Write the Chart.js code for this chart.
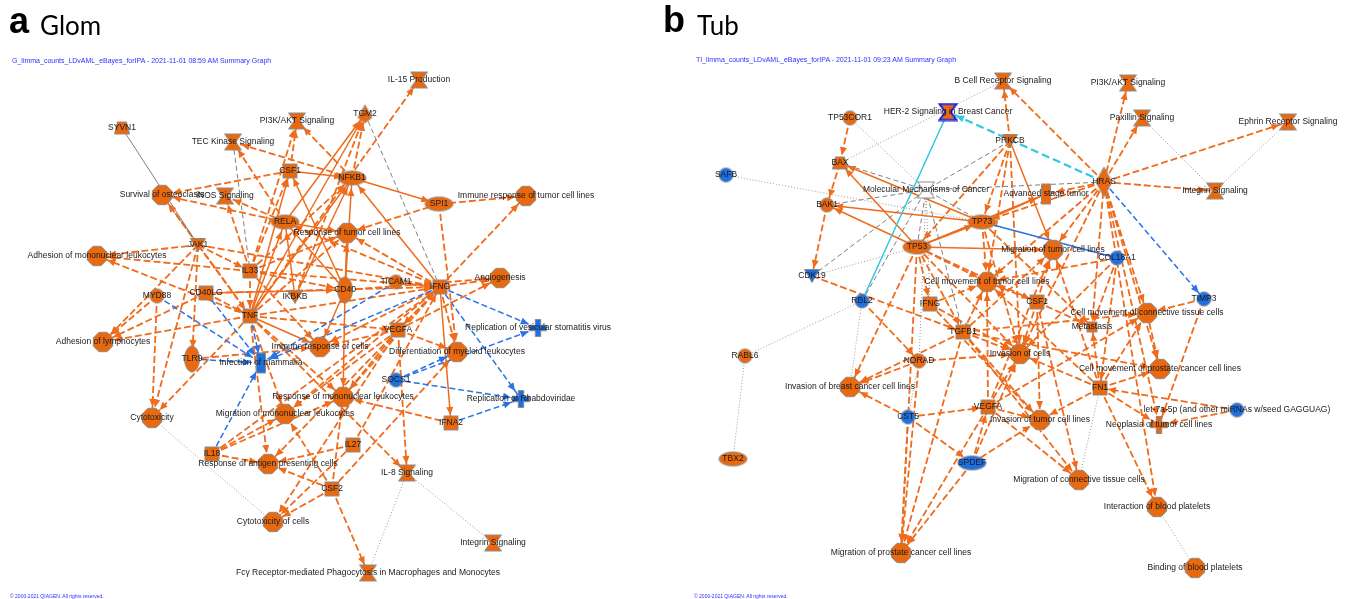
<!DOCTYPE html>
<html>
<head>
<meta charset="utf-8">
<script src="https://cdn.jsdelivr.net/npm/chart.js@4.4.1/dist/chart.umd.min.js"></script>
<style>
  body { margin: 0; background: #fff; width: 1351px; height: 599px; overflow: hidden; position: relative; font-family: "Liberation Sans", Arial, sans-serif; }
  canvas { position: absolute; top: 0; }
  #glom { left: 0; }
  #tub { left: 675px; }
  .tag { position: absolute; font-weight: bold; font-size: 36px; line-height: 36px; color: #000; }
  .name { position: absolute; font-family: Lato, "Open Sans", sans-serif; font-size: 26px; line-height: 26px; color: #000; }
  .sub { position: absolute; font-size: 7px; line-height: 8px; color: #2f2fff; white-space: nowrap; }
  .copy { position: absolute; font-size: 5px; line-height: 6px; color: #2f2fff; white-space: nowrap; }
</style>
</head>
<body>
<canvas id="glom" width="675" height="599"></canvas>
<canvas id="tub" width="676" height="599"></canvas>
<div class="tag" style="left:9px;top:3px">a</div>
<div class="name" style="left:40px;top:12px">Glom</div>
<div class="sub" style="left:12px;top:57px">G_limma_counts_LDvAML_eBayes_forIPA - 2021-11-01 08:59 AM Summary Graph</div>
<div class="copy" style="left:10px;top:593px">© 2000-2021 QIAGEN. All rights reserved.</div>
<div class="tag" style="left:663px;top:2px">b</div>
<div class="name" style="left:697px;top:12px">Tub</div>
<div class="sub" style="left:696px;top:56px">TI_limma_counts_LDvAML_eBayes_forIPA - 2021-11-01 09:23 AM Summary Graph</div>
<div class="copy" style="left:694px;top:593px">© 2000-2021 QIAGEN. All rights reserved.</div>
<script>
// ---- Panel a (Glom): nodes ----
const glomNodes = ['SYVN1', 'TEC Kinase Signaling', 'PI3K/AKT Signaling', 'TGM2', 'IL-15 Production',
  'CSF1', 'NFKB1', 'SPI1', 'Immune response of tumor cell lines', 'Survival of osteoclasts',
  'iNOS Signaling', 'RELA', 'Response of tumor cell lines', 'JAK1', 'Adhesion of mononuclear leukocytes',
  'IL33', 'MYD88', 'CD40LG', 'IKBKB', 'CD40', 'TICAM1', 'IFNG', 'Angiogenesis', 'TNF',
  'Adhesion of lymphocytes', 'TLR9', 'Infection of mammalia', 'Immune response of cells', 'VEGFA',
  'Replication of vesicular stomatitis virus', 'Differentiation of myeloid leukocytes', 'SOCS1',
  'Response of mononuclear leukocytes', 'Replication of Rhabdoviridae', 'Migration of mononuclear leukocytes',
  'Cytotoxicity', 'IFNA2', 'IL18', 'Response of antigen presenting cells', 'IL27', 'IL-8 Signaling',
  'CSF2', 'Cytotoxicity of cells', 'Integrin Signaling',
  'Fcγ Receptor-mediated Phagocytosis in Macrophages and Monocytes'];
const glomX = [122, 233, 297, 365, 419, 290, 352, 439, 526, 162, 225, 285, 347, 198, 97, 250, 157, 206, 295,
  345, 396, 440, 500, 250, 103, 192, 261, 320, 398, 538, 457, 396, 343, 521, 285, 152, 451, 212, 268, 353,
  407, 332, 273, 493, 368];
const glomY = [128, 142, 121, 114, 80, 171, 178, 204, 196, 195, 196, 222, 233, 245, 256, 271, 296, 293, 297,
  290, 282, 287, 278, 316, 342, 359, 363, 347, 330, 328, 352, 380, 397, 399, 414, 418, 423, 454, 464, 445,
  473, 489, 522, 543, 573];
const glomKind = ['trap', 'path', 'path', 'enzU', 'path', 'cyt', 'tr', 'tr', 'func', 'func', 'path', 'tr',
  'func', 'kin', 'func', 'cyt', 'oth', 'cyt', 'kin', 'rec', 'oth', 'cyt', 'func', 'cyt', 'func', 'rec', 'tall',
  'func', 'cyt', 'dis', 'func', 'oth', 'func', 'dis', 'func', 'func', 'cyt', 'cyt', 'func', 'cyt', 'path',
  'cyt', 'func', 'path', 'path'];
const glomDown = ['Infection of mammalia', 'Replication of vesicular stomatitis virus', 'SOCS1',
  'Replication of Rhabdoviridae'];

// ---- Panel a: relationships [from, to, style] ----
const FCG = 'Fcγ Receptor-mediated Phagocytosis in Macrophages and Monocytes';
const glomEdges = [
  ['SYVN1', 'JAK1', 'gs'], ['TEC Kinase Signaling', 'IL33', 'gd'], ['TGM2', 'IFNG', 'gd'],
  ['Cytotoxicity', 'Cytotoxicity of cells', 'gp'], ['IL-8 Signaling', FCG, 'gp'], ['IL-8 Signaling', 'Integrin Signaling', 'gp'],
  ['TNF', 'IL-15 Production', 'od'], ['RELA', 'TEC Kinase Signaling', 'od'], ['NFKB1', 'TEC Kinase Signaling', 'od'],
  ['CSF1', 'PI3K/AKT Signaling', 'od'], ['IL33', 'PI3K/AKT Signaling', 'od'], ['NFKB1', 'PI3K/AKT Signaling', 'od'],
  ['RELA', 'TGM2', 'os'], ['NFKB1', 'TGM2', 'od'], ['TNF', 'TGM2', 'os'], ['IKBKB', 'TGM2', 'od'],
  ['TNF', 'CSF1', 'os'], ['IL33', 'CSF1', 'od'], ['CD40', 'CSF1', 'os'], ['CSF1', 'Survival of osteoclasts', 'od'],
  ['CSF1', 'NFKB1', 'os'], ['TNF', 'NFKB1', 'os'], ['IKBKB', 'NFKB1', 'os'], ['CD40', 'NFKB1', 'os'],
  ['IFNG', 'NFKB1', 'os'], ['IL33', 'NFKB1', 'od'], ['NFKB1', 'SPI1', 'os'],
  ['SPI1', 'Response of tumor cell lines', 'od'], ['SPI1', 'Immune response of tumor cell lines', 'od'],
  ['SPI1', 'Differentiation of myeloid leukocytes', 'od'], ['IFNG', 'Immune response of tumor cell lines', 'od'],
  ['IFNG', 'Angiogenesis', 'od'], ['VEGFA', 'Angiogenesis', 'od'], ['CD40', 'Angiogenesis', 'od'],
  ['IFNG', 'Replication of vesicular stomatitis virus', 'bd'], ['IFNG', 'Replication of Rhabdoviridae', 'bd'],
  ['SOCS1', 'Differentiation of myeloid leukocytes', 'bd'], ['SOCS1', 'Replication of vesicular stomatitis virus', 'bd'],
  ['SOCS1', 'Replication of Rhabdoviridae', 'bd'], ['IFNA2', 'Replication of Rhabdoviridae', 'bd'],
  ['IFNG', 'Infection of mammalia', 'bd'], ['TICAM1', 'Infection of mammalia', 'bd'], ['MYD88', 'Infection of mammalia', 'bd'],
  ['CD40LG', 'Infection of mammalia', 'bd'], ['TNF', 'Infection of mammalia', 'bd'], ['TLR9', 'Infection of mammalia', 'bd'],
  ['IL18', 'Infection of mammalia', 'bd'],
  ['JAK1', 'Adhesion of mononuclear leukocytes', 'od'], ['TNF', 'Adhesion of mononuclear leukocytes', 'od'],
  ['IL33', 'Adhesion of mononuclear leukocytes', 'od'], ['MYD88', 'Adhesion of lymphocytes', 'od'],
  ['JAK1', 'Adhesion of lymphocytes', 'od'], ['TNF', 'Adhesion of lymphocytes', 'od'], ['CD40LG', 'Adhesion of lymphocytes', 'od'],
  ['MYD88', 'Cytotoxicity', 'od'], ['JAK1', 'Cytotoxicity', 'od'], ['JAK1', 'TLR9', 'od'],
  ['RELA', 'Response of tumor cell lines', 'os'], ['TNF', 'Response of tumor cell lines', 'od'],
  ['CD40', 'Response of tumor cell lines', 'os'], ['IFNG', 'Response of tumor cell lines', 'od'],
  ['IL33', 'Response of tumor cell lines', 'od'], ['JAK1', 'Survival of osteoclasts', 'od'],
  ['TNF', 'Survival of osteoclasts', 'od'], ['RELA', 'Survival of osteoclasts', 'od'],
  ['IL33', 'iNOS Signaling', 'od'], ['RELA', 'iNOS Signaling', 'od'],
  ['IFNG', 'RELA', 'od'], ['TNF', 'RELA', 'os'], ['IKBKB', 'RELA', 'os'], ['CD40', 'RELA', 'os'],
  ['CD40LG', 'CD40', 'os'], ['IL33', 'CD40', 'od'], ['TICAM1', 'IFNG', 'od'], ['IL33', 'IFNG', 'od'],
  ['CD40LG', 'IFNG', 'od'], ['TNF', 'IFNG', 'od'], ['IL18', 'IFNG', 'od'], ['IL27', 'IFNG', 'od'],
  ['IFNG', 'IFNA2', 'os'], ['JAK1', 'IL33', 'od'], ['JAK1', 'TNF', 'od'], ['JAK1', 'IFNG', 'od'],
  ['TNF', 'Immune response of cells', 'os'], ['CD40', 'Immune response of cells', 'os'],
  ['IFNG', 'Immune response of cells', 'od'], ['IL33', 'Immune response of cells', 'od'],
  ['TLR9', 'Immune response of cells', 'od'], ['VEGFA', 'Immune response of cells', 'od'],
  ['IL18', 'Response of mononuclear leukocytes', 'od'], ['TNF', 'Response of mononuclear leukocytes', 'od'],
  ['IFNG', 'Response of mononuclear leukocytes', 'od'], ['CD40', 'Response of mononuclear leukocytes', 'os'],
  ['IFNA2', 'Response of mononuclear leukocytes', 'od'], ['CSF2', 'Response of mononuclear leukocytes', 'od'],
  ['VEGFA', 'Response of mononuclear leukocytes', 'od'],
  ['TNF', 'Migration of mononuclear leukocytes', 'od'], ['IL18', 'Migration of mononuclear leukocytes', 'od'],
  ['CSF2', 'Migration of mononuclear leukocytes', 'od'], ['IFNG', 'Migration of mononuclear leukocytes', 'od'],
  ['VEGFA', 'Migration of mononuclear leukocytes', 'od'],
  ['IL18', 'Response of antigen presenting cells', 'od'], ['CSF2', 'Response of antigen presenting cells', 'od'],
  ['TNF', 'Response of antigen presenting cells', 'od'], ['IL27', 'Response of antigen presenting cells', 'od'],
  ['IFNG', 'Response of antigen presenting cells', 'od'],
  ['CSF2', 'Cytotoxicity of cells', 'od'], ['IL27', 'Cytotoxicity of cells', 'od'], ['VEGFA', 'Cytotoxicity of cells', 'od'],
  ['CSF2', FCG, 'od'], ['VEGFA', 'IL-8 Signaling', 'od'], ['TNF', 'IL-8 Signaling', 'od'],
  ['IFNG', 'Differentiation of myeloid leukocytes', 'od'], ['CSF2', 'Differentiation of myeloid leukocytes', 'od'],
  ['VEGFA', 'Differentiation of myeloid leukocytes', 'od'], ['IFNG', 'VEGFA', 'od'], ['TNF', 'VEGFA', 'od'],
  ['TNF', 'Cytotoxicity', 'od'], ['CD40LG', 'TNF', 'od'], ['IL33', 'TNF', 'od']
];

// ---- Panel b (Tub): nodes ----
const LET7 = 'let-7a-5p (and other miRNAs w/seed GAGGUAG)';
const tubNodes = ['B Cell Receptor Signaling', 'PI3K/AKT Signaling', 'HER-2 Signaling in Breast Cancer', 'TP53COR1',
  'Paxillin Signaling', 'Ephrin Receptor Signaling', 'PRKCB', 'BAX', 'SAFB', 'Molecular Mechanisms of Cancer',
  'HRAS', 'Advanced stage tumor', 'Integrin Signaling', 'BAK1', 'TP73', 'TP53', 'Migration of tumor cell lines',
  'CDK19', 'COL18A1', 'Cell movement of tumor cell lines', 'RBL2', 'IFNG', 'CSF1', 'TIMP3',
  'Cell movement of connective tissue cells', 'Metastasis', 'TGFB1', 'RABL6', 'NORAD', 'Invasion of cells',
  'Invasion of breast cancer cell lines', 'Cell movement of prostate cancer cell lines', 'FN1', 'VEGFA', 'CST5',
  LET7, 'Invasion of tumor cell lines', 'Neoplasia of tumor cell lines', 'TBX2', 'SPDEF',
  'Migration of connective tissue cells', 'Interaction of blood platelets', 'Migration of prostate cancer cell lines',
  'Binding of blood platelets'];
const tubX = [1003, 1128, 948, 850, 1142, 1288, 1010, 840, 726, 926, 1104, 1046, 1215, 827, 982, 917, 1053, 812,
  1117, 987, 862, 930, 1037, 1204, 1147, 1092, 963, 745, 919, 1020, 850, 1160, 1100, 988, 908, 1237, 1040, 1159,
  733, 972, 1079, 1157, 901, 1195];
const tubY = [81, 83, 112, 118, 118, 122, 141, 163, 175, 190, 182, 194, 191, 205, 222, 247, 250, 276, 258, 282,
  301, 304, 302, 299, 313, 327, 332, 356, 361, 354, 387, 369, 388, 407, 417, 410, 420, 425, 459, 463, 480, 507,
  553, 568];
const tubKind = ['path', 'path', 'path', 'oth', 'path', 'path', 'kin', 'trap', 'oth', 'path', 'enz', 'tall', 'path',
  'oth', 'tr', 'tr', 'func', 'kin', 'oth', 'func', 'oth', 'cyt', 'cyt', 'oth', 'func', 'sq', 'cyt', 'oth', 'oth',
  'func', 'func', 'func', 'cyt', 'cyt', 'oth', 'oth', 'func', 'dis', 'tr', 'tr', 'func', 'func', 'func', 'func'];
const tubDown = ['SAFB', 'CDK19', 'COL18A1', 'RBL2', 'TIMP3', 'CST5', LET7, 'SPDEF'];

// ---- Panel b: relationships ----
const HER2 = 'HER-2 Signaling in Breast Cancer', MMC = 'Molecular Mechanisms of Cancer';
const tubEdges = [
  ['HRAS', HER2, 'cd'], ['RBL2', HER2, 'cs'], ['BAX', 'B Cell Receptor Signaling', 'gp'],
  ['TP53COR1', MMC, 'gp'], ['SAFB', 'TP73', 'gp'], ['BAX', MMC, 'gd'], ['PRKCB', MMC, 'gd'], ['HRAS', MMC, 'gd'],
  ['BAK1', MMC, 'gd'], ['CDK19', MMC, 'gd'], ['RBL2', MMC, 'gd'], ['TGFB1', MMC, 'gd'], ['TP53', MMC, 'gd'],
  ['TP73', MMC, 'gd'], ['IFNG', MMC, 'gp'], ['NORAD', MMC, 'gp'], ['CDK19', 'TP53', 'gp'],
  ['RBL2', 'Invasion of breast cancer cell lines', 'gp'], ['RBL2', 'RABL6', 'gp'], ['RABL6', 'TBX2', 'gp'],
  ['Paxillin Signaling', 'Integrin Signaling', 'gp'], ['Ephrin Receptor Signaling', 'Integrin Signaling', 'gp'],
  ['Interaction of blood platelets', 'Binding of blood platelets', 'gp'], ['NORAD', 'CST5', 'gp'],
  ['FN1', 'Migration of connective tissue cells', 'gp'],
  ['TP73', 'COL18A1', 'bs'], ['HRAS', 'TIMP3', 'bd'],
  ['TP53COR1', 'BAX', 'od'], ['TP53', 'BAX', 'os'], ['TP73', 'BAX', 'os'], ['TP53', 'BAK1', 'os'], ['TP73', 'BAK1', 'os'],
  ['BAK1', 'CDK19', 'od'], ['BAX', 'BAK1', 'od'], ['CDK19', 'TGFB1', 'od'], ['RBL2', 'NORAD', 'od'],
  ['HRAS', 'B Cell Receptor Signaling', 'od'], ['HRAS', 'PI3K/AKT Signaling', 'od'], ['HRAS', 'Paxillin Signaling', 'od'],
  ['HRAS', 'Ephrin Receptor Signaling', 'od'], ['HRAS', 'Integrin Signaling', 'od'], ['HRAS', 'Advanced stage tumor', 'od'],
  ['HRAS', 'Migration of tumor cell lines', 'od'], ['HRAS', 'Cell movement of tumor cell lines', 'od'],
  ['HRAS', 'Cell movement of connective tissue cells', 'od'], ['HRAS', 'Invasion of cells', 'od'],
  ['HRAS', 'Cell movement of prostate cancer cell lines', 'od'], ['HRAS', 'Neoplasia of tumor cell lines', 'od'],
  ['HRAS', 'Interaction of blood platelets', 'od'], ['HRAS', 'Metastasis', 'od'], ['HRAS', 'TP73', 'od'],
  ['PRKCB', 'B Cell Receptor Signaling', 'od'], ['PRKCB', 'Migration of tumor cell lines', 'os'], ['PRKCB', 'TP73', 'od'],
  ['PRKCB', 'TP53', 'od'], ['PRKCB', 'Cell movement of tumor cell lines', 'od'], ['PRKCB', 'Invasion of cells', 'od'],
  ['TP53', 'TP73', 'os'], ['TP53', 'Advanced stage tumor', 'os'], ['TP73', 'Advanced stage tumor', 'os'],
  ['TP53', 'Migration of tumor cell lines', 'os'], ['TP53', 'Cell movement of tumor cell lines', 'od'],
  ['TP73', 'Cell movement of tumor cell lines', 'od'], ['TP53', 'Invasion of cells', 'od'],
  ['TP53', 'Invasion of breast cancer cell lines', 'od'], ['TP53', 'TGFB1', 'od'], ['TP53', 'IFNG', 'od'],
  ['TP73', 'Invasion of cells', 'od'], ['TP73', 'Metastasis', 'od'], ['TP53', 'CSF1', 'od'],
  ['TP53', 'Migration of prostate cancer cell lines', 'od'],
  ['IFNG', 'Cell movement of tumor cell lines', 'od'], ['IFNG', 'Invasion of cells', 'od'], ['IFNG', 'Invasion of tumor cell lines', 'od'],
  ['CSF1', 'Cell movement of tumor cell lines', 'od'], ['CSF1', 'Migration of tumor cell lines', 'od'],
  ['CSF1', 'Invasion of cells', 'od'], ['CSF1', 'Metastasis', 'od'], ['CSF1', 'Invasion of tumor cell lines', 'od'],
  ['TGFB1', 'Invasion of cells', 'od'], ['TGFB1', 'Cell movement of tumor cell lines', 'od'],
  ['TGFB1', 'Invasion of breast cancer cell lines', 'od'], ['TGFB1', 'Migration of tumor cell lines', 'od'],
  ['TGFB1', 'Invasion of tumor cell lines', 'od'], ['TGFB1', 'Cell movement of connective tissue cells', 'od'],
  ['TGFB1', 'Migration of prostate cancer cell lines', 'od'], ['TGFB1', 'Cell movement of prostate cancer cell lines', 'od'],
  ['NORAD', 'Invasion of breast cancer cell lines', 'od'], ['NORAD', 'Invasion of cells', 'od'],
  ['NORAD', 'Migration of prostate cancer cell lines', 'od'],
  ['VEGFA', 'Invasion of cells', 'od'], ['VEGFA', 'Cell movement of tumor cell lines', 'od'],
  ['VEGFA', 'Migration of tumor cell lines', 'od'], ['VEGFA', 'Invasion of tumor cell lines', 'od'],
  ['VEGFA', 'Migration of connective tissue cells', 'od'], ['VEGFA', 'Cell movement of connective tissue cells', 'od'],
  ['VEGFA', 'Migration of prostate cancer cell lines', 'od'],
  ['FN1', 'Invasion of cells', 'od'], ['FN1', 'Cell movement of prostate cancer cell lines', 'od'],
  ['FN1', 'Cell movement of connective tissue cells', 'od'], ['FN1', 'Invasion of tumor cell lines', 'od'],
  ['FN1', 'Neoplasia of tumor cell lines', 'od'], ['FN1', 'Interaction of blood platelets', 'od'],
  ['FN1', 'Metastasis', 'od'], ['FN1', 'Migration of tumor cell lines', 'od'], ['FN1', 'Cell movement of tumor cell lines', 'od'],
  ['COL18A1', 'Invasion of cells', 'od'], ['COL18A1', 'Cell movement of tumor cell lines', 'od'],
  ['COL18A1', 'Metastasis', 'od'], ['COL18A1', 'FN1', 'od'],
  ['TIMP3', 'Cell movement of connective tissue cells', 'od'], ['TIMP3', 'Neoplasia of tumor cell lines', 'od'],
  ['CST5', 'Invasion of breast cancer cell lines', 'od'], ['CST5', 'SPDEF', 'od'],
  ['CST5', 'Migration of prostate cancer cell lines', 'od'], ['CST5', 'VEGFA', 'od'],
  ['SPDEF', 'Migration of prostate cancer cell lines', 'od'], ['SPDEF', 'Invasion of tumor cell lines', 'od'],
  ['SPDEF', 'VEGFA', 'od'], ['SPDEF', 'Invasion of cells', 'od'],
  [LET7, 'FN1', 'od'], [LET7, 'Neoplasia of tumor cell lines', 'od'],
  ['TGFB1', 'Migration of connective tissue cells', 'od'], ['CSF1', 'Migration of connective tissue cells', 'od'],
  ['Cell movement of connective tissue cells', 'Cell movement of prostate cancer cell lines', 'od']
];

// Estilos de las relaciones
const ORANGE = '#ee6c1c';
const edgeStyle = {
  od: { color: ORANGE, width: 1.8, dash: [7, 3], arrow: true },
  os: { color: ORANGE, width: 1.5, dash: [], arrow: true },
  bd: { color: '#2a72e6', width: 1.5, dash: [6, 3], arrow: true },
  bs: { color: '#2a72e6', width: 1.5, dash: [], arrow: false },
  gs: { color: '#808080', width: 1, dash: [], arrow: false },
  gd: { color: '#808080', width: 1, dash: [5, 3], arrow: false },
  gp: { color: '#9a9a9a', width: 1, dash: [1, 2], arrow: false },
  cd: { color: '#30c8e0', width: 2.2, dash: [8, 4], arrow: true },
  cs: { color: '#30c8e0', width: 1.5, dash: [], arrow: false }
};

// Tamaño de cada forma de nodo
const shapeSize = { func: [21, 21], path: [17, 16], tr: [28, 14], rec: [15, 26], cyt: [14, 14], oth: [14, 14],
  kin: [15, 13], enz: [16, 30], enzU: [14, 18], dis: [17, 17], tall: [9, 20], sq: [10, 10], trap: [15, 12] };

const makeShape = (kind, fill, stroke, lw) => {
  const [w, h] = shapeSize[kind];
  const c = document.createElement('canvas');
  c.width = w + 3; c.height = h + 3;
  const g = c.getContext('2d');
  g.translate(1.5, 1.5);
  g.beginPath();
  if (kind === 'func') {
    for (let i = 0; i < 8; i++) {
      const a = Math.PI / 8 + i * Math.PI / 4;
      g.lineTo(w / 2 + Math.cos(a) * w / 2, h / 2 + Math.sin(a) * h / 2);
    }
  } else if (kind === 'path') {
    g.moveTo(0, 0); g.lineTo(w, 0); g.lineTo(w * 0.66, h / 2); g.lineTo(w, h); g.lineTo(0, h); g.lineTo(w * 0.34, h / 2);
  } else if (kind === 'tr' || kind === 'rec' || kind === 'oth') {
    g.ellipse(w / 2, h / 2, w / 2, h / 2, 0, 0, Math.PI * 2);
  } else if (kind === 'kin') {
    g.moveTo(0, 0); g.lineTo(w, 0); g.lineTo(w / 2, h);
  } else if (kind === 'enz') {
    g.moveTo(w / 2, 0); g.lineTo(w, h / 2); g.lineTo(w / 2, h); g.lineTo(0, h / 2);
  } else if (kind === 'enzU') {
    g.moveTo(w / 2, 0); g.lineTo(w, h * 0.7); g.lineTo(w / 2, h); g.lineTo(0, h * 0.7);
  } else if (kind === 'dis') {
    const t = w * 0.34;
    g.moveTo(t, 0); g.lineTo(w - t, 0); g.lineTo(w - t, t); g.lineTo(w, t); g.lineTo(w, h - t); g.lineTo(w - t, h - t);
    g.lineTo(w - t, h); g.lineTo(t, h); g.lineTo(t, h - t); g.lineTo(0, h - t); g.lineTo(0, t); g.lineTo(t, t);
  } else if (kind === 'trap') {
    g.moveTo(w * 0.2, 0); g.lineTo(w * 0.8, 0); g.lineTo(w, h); g.lineTo(0, h);
  } else {
    g.rect(0, 0, w, h);
  }
  g.closePath();
  g.fillStyle = fill; g.fill();
  g.lineWidth = lw; g.strokeStyle = stroke; g.stroke();
  return c;
};

const nodeRadius = { func: 10, path: 8, tr: 9, rec: 10, cyt: 7, oth: 7, kin: 7, enz: 10, enzU: 8, dis: 9, tall: 9, sq: 5, trap: 7 };

const buildNetwork = (canvasId, names, xs, ys, kinds, downList, edges, xMin, xMax) => {
  const idx = {};
  names.forEach((n, i) => { idx[n] = i; });
  const validEdges = edges.filter(([a, b]) => idx[a] !== undefined && idx[b] !== undefined);

  const edgeSets = validEdges.map(([a, b, s]) => ({
    type: 'line',
    data: [{ x: xs[idx[a]], y: ys[idx[a]] }, { x: xs[idx[b]], y: ys[idx[b]] }],
    borderColor: edgeStyle[s].color,
    borderWidth: edgeStyle[s].width,
    borderDash: edgeStyle[s].dash,
    pointRadius: 0,
    fill: false,
    tension: 0,
    order: 1
  }));

  const styles = names.map((n, i) => {
    if (n === 'HER-2 Signaling in Breast Cancer') return makeShape(kinds[i], '#e8690f', '#2323e6', 2);
    if (n === 'Molecular Mechanisms of Cancer') return makeShape(kinds[i], '#ffffff', '#8c8c8c', 1);
    const fill = downList.includes(n) ? '#1e6fe0' : '#e8690f';
    return makeShape(kinds[i], fill, '#8c8c8c', 1);
  });

  const nodeSet = {
    type: 'scatter',
    data: names.map((n, i) => ({ x: xs[i], y: ys[i] })),
    pointStyle: styles,
    pointRadius: 8,
    order: 0
  };

  // Puntas de flecha, dibujadas justo antes de los nodos
  const arrowPlugin = {
    id: 'arrows',
    beforeDatasetDraw(chart, args) {
      if (args.index !== chart.data.datasets.length - 1) return;
      const { ctx, scales: { x, y } } = chart;
      ctx.save();
      validEdges.forEach(([a, b, s]) => {
        if (!edgeStyle[s].arrow) return;
        const x1 = x.getPixelForValue(xs[idx[a]]), y1 = y.getPixelForValue(ys[idx[a]]);
        const x2 = x.getPixelForValue(xs[idx[b]]), y2 = y.getPixelForValue(ys[idx[b]]);
        const ang = Math.atan2(y2 - y1, x2 - x1);
        const r = nodeRadius[kinds[idx[b]]] + 1;
        const tx = x2 - Math.cos(ang) * r, ty = y2 - Math.sin(ang) * r;
        const bx = tx - Math.cos(ang) * 8, by = ty - Math.sin(ang) * 8;
        ctx.beginPath();
        ctx.moveTo(tx, ty);
        ctx.lineTo(bx + Math.sin(ang) * 3.5, by - Math.cos(ang) * 3.5);
        ctx.lineTo(bx - Math.sin(ang) * 3.5, by + Math.cos(ang) * 3.5);
        ctx.closePath();
        ctx.fillStyle = edgeStyle[s].color;
        ctx.fill();
      });
      ctx.restore();
    }
  };

  // Etiquetas de los nodos
  const labelPlugin = {
    id: 'labels',
    afterDatasetsDraw(chart) {
      const { ctx, scales: { x, y } } = chart;
      ctx.save();
      ctx.font = '8.5px "Liberation Sans", Arial, sans-serif';
      ctx.fillStyle = '#1a1a1a';
      ctx.textAlign = 'center';
      ctx.textBaseline = 'middle';
      names.forEach((n, i) => ctx.fillText(n, x.getPixelForValue(xs[i]), y.getPixelForValue(ys[i])));
      ctx.restore();
    }
  };

  new Chart(document.getElementById(canvasId), {
    type: 'scatter',
    data: { datasets: [...edgeSets, nodeSet] },
    options: {
      responsive: false,
      animation: false,
      events: [],
      layout: { padding: 0, autoPadding: false },
      plugins: { legend: { display: false }, tooltip: { enabled: false } },
      scales: {
        x: { type: 'linear', min: xMin, max: xMax, display: false },
        y: { type: 'linear', min: 0, max: 599, reverse: true, display: false }
      }
    },
    plugins: [arrowPlugin, labelPlugin]
  });
};

buildNetwork('glom', glomNodes, glomX, glomY, glomKind, glomDown, glomEdges, 0, 675);
buildNetwork('tub', tubNodes, tubX, tubY, tubKind, tubDown, tubEdges, 675, 1351);
</script>
</body>
</html>
